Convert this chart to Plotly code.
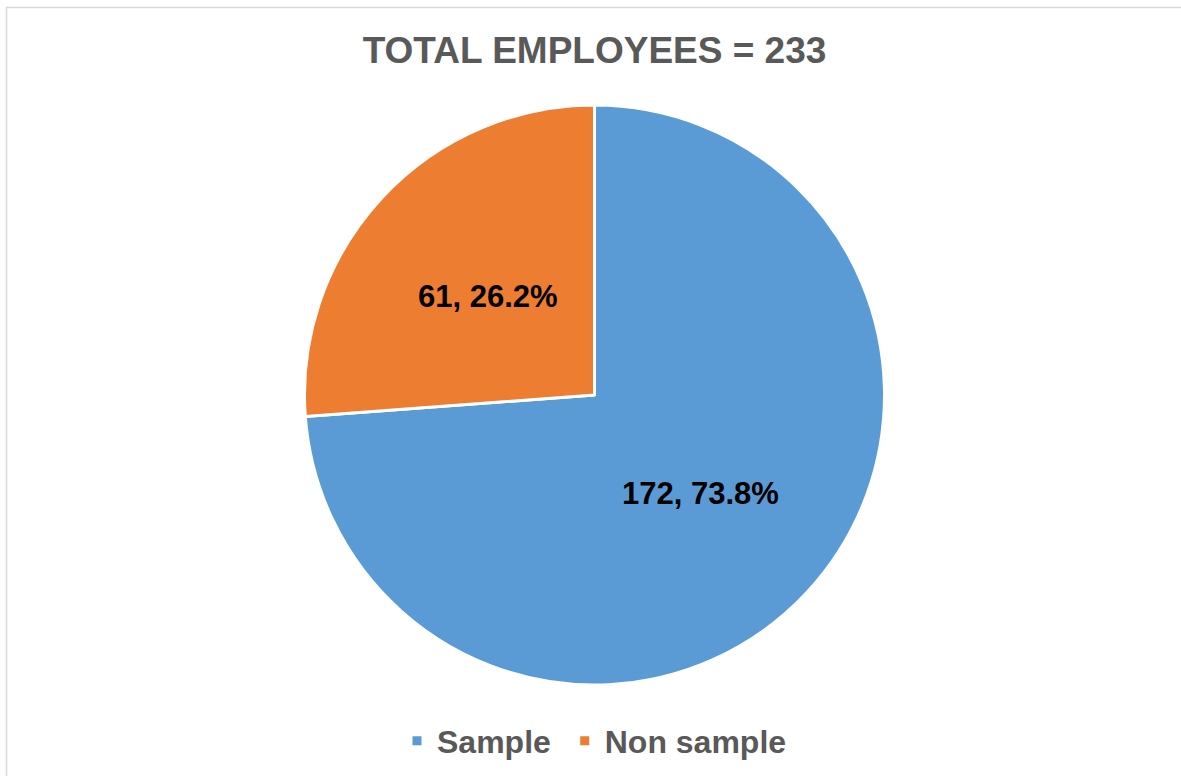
import math
import plotly.graph_objects as go

# Employee breakdown
labels = ["Sample", "Non sample"]
counts = [172, 61]
colors = ["#5B9BD5", "#ED7D31"]
total = sum(counts)

W, H = 1181, 776
ML, MR, MT, MB = 8, 0, 105, 91
PLOT_W, PLOT_H = W - ML - MR, H - MT - MB
RADIUS_PX = min(PLOT_W, PLOT_H) / 2


def px_to_paper_x(px):
    return (px - ML) / PLOT_W


def px_to_paper_y(py):
    return 1 - (py - MT) / PLOT_H


# a trailing no-break space widens the gap between legend entries
legend_labels = [name + "\u00a0" if i < len(labels) - 1 else name for i, name in enumerate(labels)]

fig = go.Figure(
    go.Pie(
        labels=legend_labels,
        values=counts,
        marker=dict(colors=colors, line=dict(color="white", width=3)),
        sort=False,
        direction="clockwise",
        rotation=0,
        textinfo="none",
        hoverinfo="label+value+percent",
    )
)

# Value labels placed halfway out along each slice's bisector
annotations = []
start = 0.0
for val in counts:
    frac = val / total
    mid = (start + frac / 2) * 2 * math.pi  # clockwise from 12 o'clock
    start += frac
    dx = 0.5 * RADIUS_PX * math.sin(mid)
    dy = 0.5 * RADIUS_PX * math.cos(mid)
    annotations.append(
        dict(
            x=0.5 + dx / PLOT_W,
            y=0.5 + dy / PLOT_H,
            xref="paper",
            yref="paper",
            text=f"{val}, {frac * 100:.1f}%",
            showarrow=False,
            xanchor="center",
            yanchor="middle",
            font=dict(family="Liberation Sans", size=31, color="black", weight="bold"),
        )
    )

fig.update_layout(
    width=W,
    height=H,
    margin=dict(l=ML, r=MR, t=MT, b=MB),
    paper_bgcolor="white",
    plot_bgcolor="white",
    title=dict(
        text=f"TOTAL EMPLOYEES = {total}",
        x=(ML + PLOT_W / 2) / W,
        xanchor="center",
        y=1 - 50 / H,
        yanchor="middle",
        font=dict(family="Liberation Sans", size=37, color="#595959", weight="bold"),
    ),
    showlegend=True,
    legend=dict(
        orientation="h",
        x=0.5,
        xanchor="center",
        y=px_to_paper_y(741),
        yanchor="middle",
        font=dict(family="Liberation Sans", size=32, color="#595959", weight="bold"),
        traceorder="normal",
    ),
    annotations=annotations,
    shapes=[
        # thin chart-area frame
        dict(
            type="rect",
            xref="paper",
            yref="paper",
            x0=px_to_paper_x(6.5),
            x1=px_to_paper_x(W + 20),
            y0=px_to_paper_y(H + 20),
            y1=px_to_paper_y(7.5),
            line=dict(color="#D9D9D9", width=1.5),
            fillcolor="rgba(0,0,0,0)",
            layer="below",
        )
    ],
)

fig.write_html("out.html")
